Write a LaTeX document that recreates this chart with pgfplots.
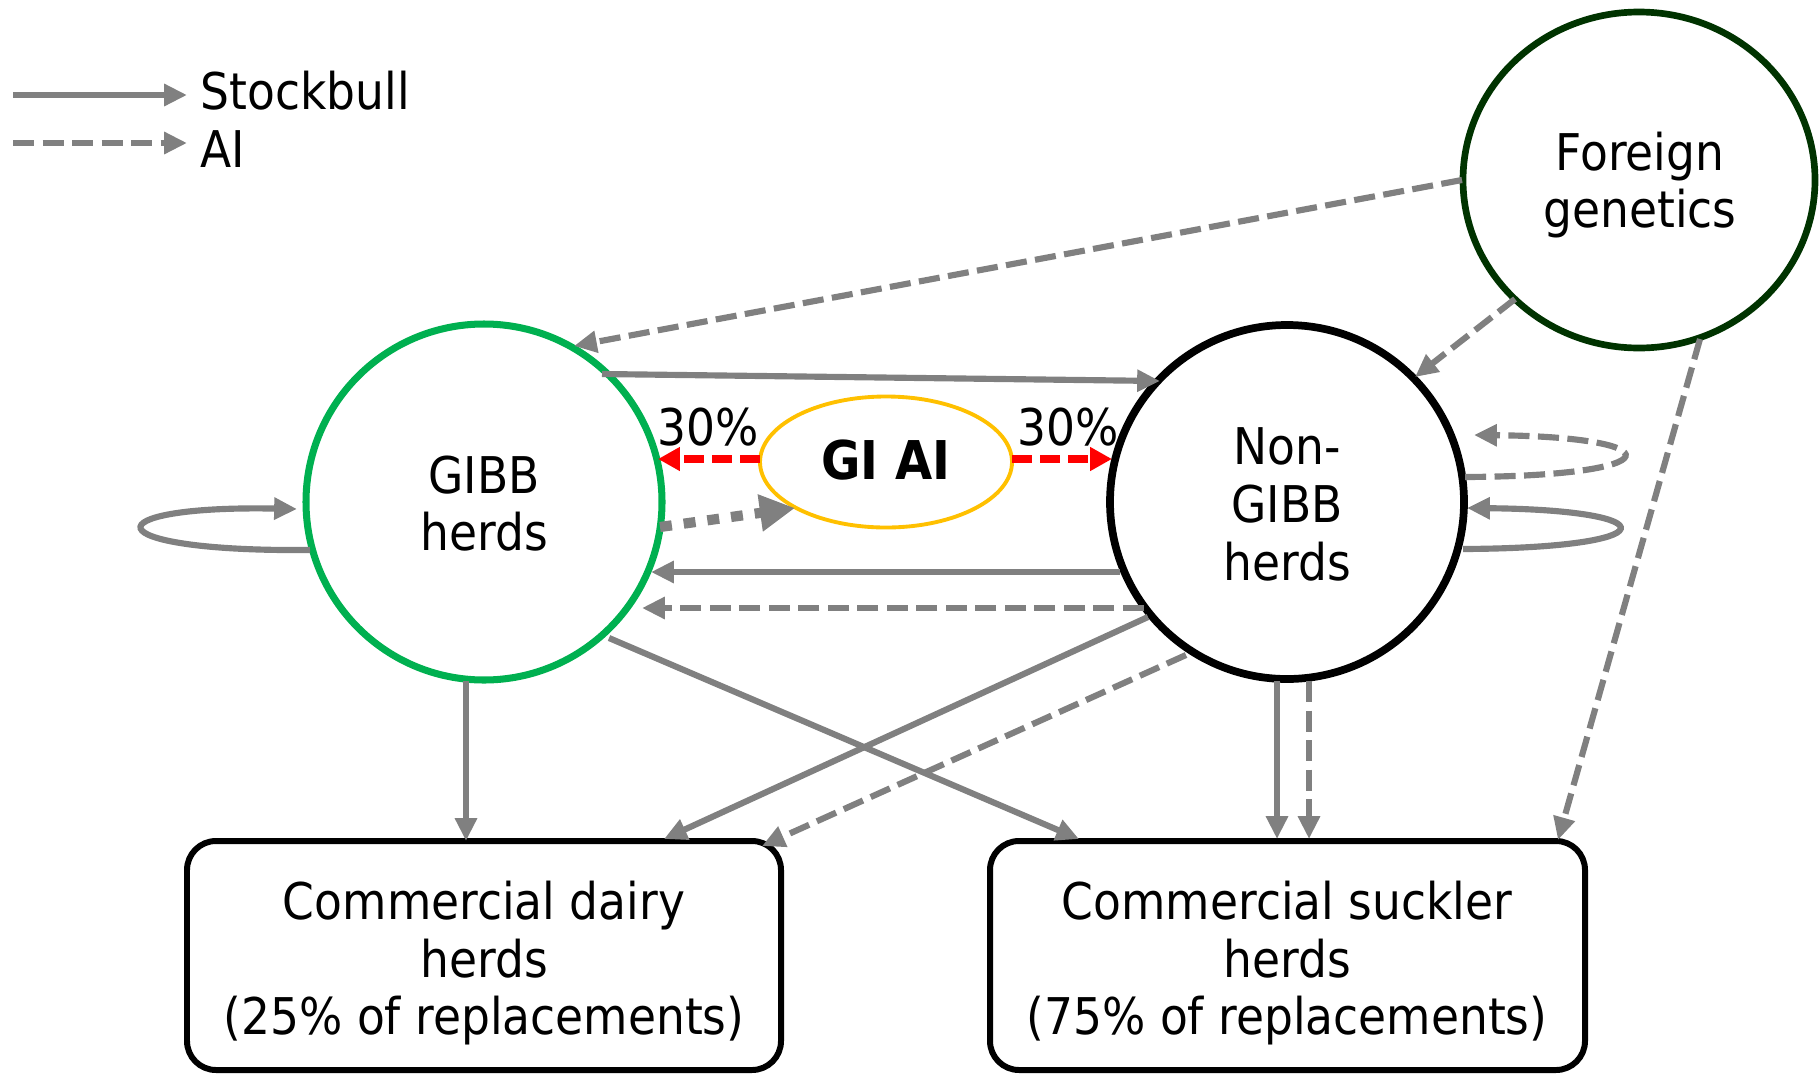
\documentclass[border=0pt]{standalone}
\usepackage{pgfplots}
\pgfplotsset{compat=1.18}
\usepackage{fontspec}
\setmainfont[FakeStretch=0.9]{DejaVu Sans}
\usetikzlibrary{arrows.meta}
\definecolor{ag}{HTML}{808080}
\definecolor{gibbgreen}{HTML}{00B050}
\definecolor{forgreen}{HTML}{003300}
\definecolor{aiyellow}{HTML}{FFC000}
\tikzset{
  st/.style={draw=ag,line width=1.75pt,-{Triangle[length=6.5pt,width=6pt]}},
  ai/.style={st,dash pattern=on 6pt off 2.4pt},
  rd/.style={draw=red,line width=2pt,dash pattern=on 5.7pt off 2.3pt,-{Triangle[length=6.2pt,width=6.4pt]}},
  dt/.style={draw=ag,line width=2.9pt,dash pattern=on 3.4pt off 3.4pt,-{Triangle[length=10pt,width=10pt]}},
  lbl/.style={anchor=base,inner sep=0pt,font=\fontsize{14.4}{17}\selectfont},
}
\begin{document}
\begin{tikzpicture}
\begin{axis}[width=181.9mm,height=107.4mm,scale only axis,
  xmin=0,xmax=1819,ymin=0,ymax=1074,y dir=reverse,hide axis,clip=false]
\path (axis cs:0,0) rectangle (axis cs:1819,1074);
% shapes
\draw[draw=gibbgreen,line width=2pt] (axis cs:484,502) circle[radius=17.8mm];
\draw[draw=black,line width=2.2pt] (axis cs:1287,502) circle[radius=17.7mm];
\draw[draw=forgreen,line width=1.9pt] (axis cs:1639,180) ellipse[x radius=17.6mm,y radius=16.8mm];
\draw[draw=aiyellow,line width=1.1pt] (axis cs:886,462) ellipse[x radius=12.6mm,y radius=6.55mm];
\draw[line width=1.7pt,rounded corners=2.9mm] (axis cs:187,841) rectangle (axis cs:781,1070);
\draw[line width=1.7pt,rounded corners=2.9mm] (axis cs:990,841) rectangle (axis cs:1585,1070);
% legend
\addplot[st] coordinates {(13,95) (187,95)};
\addplot[ai] coordinates {(13,143) (187,143)};
\node[lbl,anchor=base west] at (axis cs:200,109) {Stockbull};
\node[lbl,anchor=base west] at (axis cs:200,167) {AI};
% arrows
\addplot[ai] coordinates {(1462,180) (574,346)};
\addplot[ai] coordinates {(1515,299) (1415,377)};
\addplot[ai] coordinates {(1700,339) (1558,840)};
\addplot[st] coordinates {(602,374) (1160,381)};
\addplot[st] coordinates {(1120,572) (651,572)};
\addplot[ai] coordinates {(1144,608) (642,608)};
\addplot[st] coordinates {(466,681) (466,841)};
\addplot[st] coordinates {(609,638) (1079,839)};
\addplot[st] coordinates {(1148,617) (664,839)};
\addplot[ai] coordinates {(1186,655) (762,846)};
\addplot[st] coordinates {(1277,681) (1277,839)};
\addplot[ai] coordinates {(1309,681) (1309,839)};
\addplot[rd] coordinates {(760,459) (658,459)};
\addplot[rd] coordinates {(1012,459) (1112,459)};
\addplot[dt] coordinates {(660,527) (795,508)};
% loops
\draw[st] (axis cs:310,550) .. controls (axis cs:90,552) and (axis cs:90,505) .. (axis cs:297,509);
\draw[st] (axis cs:1463,549) .. controls (axis cs:1669,548) and (axis cs:1669,510) .. (axis cs:1467,508);
\draw[ai] (axis cs:1465,477) .. controls (axis cs:1674,476) and (axis cs:1674,437) .. (axis cs:1474,435);
% texts
\node[lbl] at (axis cs:484,493) {GIBB};
\node[lbl] at (axis cs:484,550) {herds};
\node[lbl] at (axis cs:1287,464) {Non-};
\node[lbl] at (axis cs:1287,522) {GIBB};
\node[lbl] at (axis cs:1287,580) {herds};
\node[lbl] at (axis cs:1640,170) {Foreign};
\node[lbl] at (axis cs:1640,227) {genetics};
\node[lbl,font=\fontsize{15.2}{18}\selectfont\bfseries] at (axis cs:886,479) {GI AI};
\node[lbl] at (axis cs:708,445) {30\%};
\node[lbl] at (axis cs:1068,445) {30\%};
\node[lbl] at (axis cs:484,919) {Commercial dairy};
\node[lbl] at (axis cs:484,977) {herds};
\node[lbl] at (axis cs:484,1034) {(25\% of replacements)};
\node[lbl] at (axis cs:1287,919) {Commercial suckler};
\node[lbl] at (axis cs:1287,977) {herds};
\node[lbl] at (axis cs:1287,1034) {(75\% of replacements)};
\end{axis}
\end{tikzpicture}
\end{document}
